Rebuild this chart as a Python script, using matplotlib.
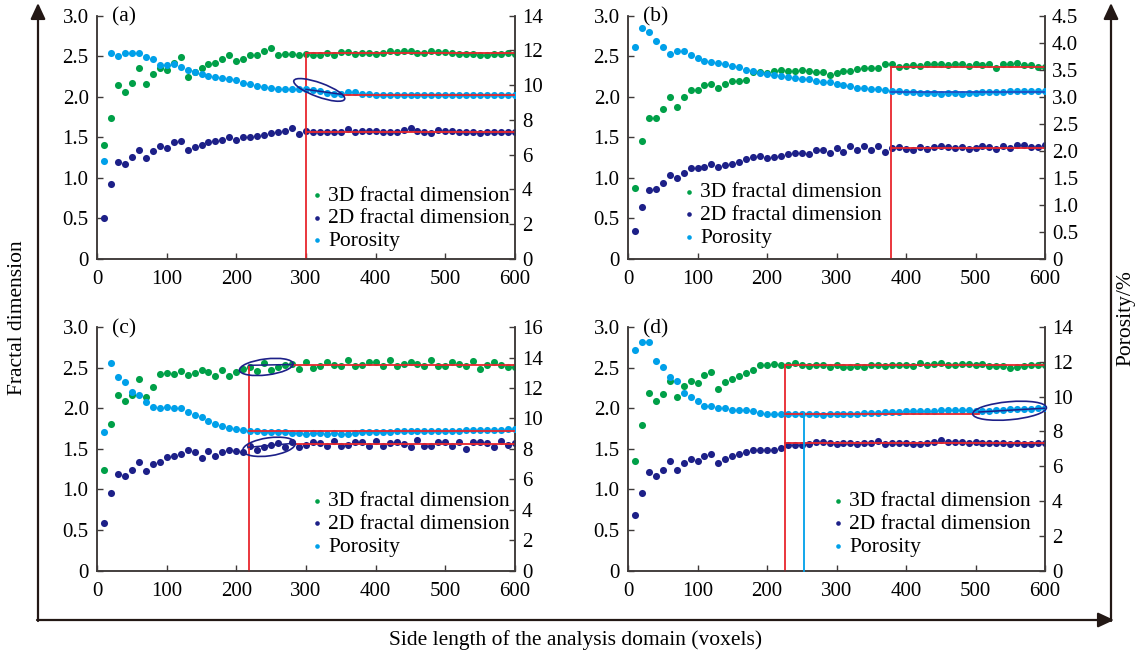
import matplotlib
matplotlib.use("Agg")
import matplotlib.pyplot as plt
from matplotlib.patches import Ellipse, FancyArrowPatch
from matplotlib.transforms import ScaledTranslation

plt.rcParams['font.family'] = ['Liberation Serif', 'DejaVu Serif']

W, H = 1139, 656
GREEN = '#00a048'
NAVY = '#1d2088'
CYAN = '#00a0e9'
RED = '#e8262d'
INK = '#231815'

# side length of the analysis domain (voxels)
side = list(range(10, 610, 10))

# ---- (a) ----
a_3d = [1.41, 1.74, 2.14, 2.06, 2.17, 2.35, 2.16, 2.28, 2.36, 2.33,
        2.42, 2.49, 2.25, 2.31, 2.36, 2.40, 2.42, 2.47, 2.51, 2.44,
        2.47, 2.51, 2.52, 2.56, 2.60, 2.52, 2.53, 2.53, 2.51, 2.53,
        2.52, 2.52, 2.54, 2.51, 2.55, 2.55, 2.53, 2.54, 2.54, 2.53,
        2.54, 2.56, 2.55, 2.57, 2.56, 2.54, 2.54, 2.56, 2.55, 2.55,
        2.54, 2.53, 2.53, 2.53, 2.51, 2.52, 2.53, 2.53, 2.54, 2.53]
a_2d = [0.50, 0.93, 1.20, 1.17, 1.26, 1.35, 1.25, 1.33, 1.39, 1.37,
        1.44, 1.46, 1.34, 1.38, 1.41, 1.44, 1.45, 1.47, 1.51, 1.47,
        1.50, 1.51, 1.52, 1.53, 1.55, 1.56, 1.58, 1.61, 1.54, 1.58,
        1.57, 1.57, 1.57, 1.57, 1.57, 1.60, 1.56, 1.58, 1.58, 1.58,
        1.57, 1.57, 1.57, 1.59, 1.61, 1.58, 1.57, 1.55, 1.59, 1.58,
        1.58, 1.57, 1.57, 1.57, 1.55, 1.56, 1.56, 1.56, 1.56, 1.56]
a_por = [5.65, 11.84, 11.67, 11.88, 11.88, 11.88, 11.61, 11.52, 11.17, 11.17,
         11.23, 11.04, 10.85, 10.74, 10.66, 10.51, 10.47, 10.40, 10.34, 10.28,
         10.13, 10.09, 9.96, 9.90, 9.83, 9.81, 9.79, 9.77, 9.77, 9.79,
         9.71, 9.64, 9.56, 9.52, 9.49, 9.60, 9.60, 9.52, 9.49, 9.45,
         9.45, 9.45, 9.45, 9.45, 9.45, 9.45, 9.45, 9.45, 9.45, 9.45,
         9.45, 9.45, 9.41, 9.41, 9.41, 9.41, 9.41, 9.41, 9.41, 9.45]

# ---- (b) ----
b_3d = [0.87, 1.46, 1.74, 1.74, 1.85, 2.00, 1.87, 2.00, 2.08, 2.08,
        2.15, 2.16, 2.11, 2.16, 2.20, 2.20, 2.21, 2.31, 2.30, 2.29,
        2.32, 2.33, 2.32, 2.32, 2.33, 2.32, 2.30, 2.31, 2.27, 2.29,
        2.32, 2.32, 2.34, 2.35, 2.36, 2.36, 2.40, 2.40, 2.37, 2.38,
        2.39, 2.38, 2.41, 2.41, 2.41, 2.39, 2.40, 2.40, 2.38, 2.41,
        2.39, 2.41, 2.35, 2.40, 2.41, 2.42, 2.39, 2.39, 2.37, 2.37]
b_2d = [0.35, 0.64, 0.85, 0.86, 0.94, 1.03, 1.00, 1.06, 1.12, 1.12,
        1.14, 1.17, 1.13, 1.16, 1.17, 1.19, 1.23, 1.26, 1.27, 1.24,
        1.26, 1.27, 1.29, 1.31, 1.31, 1.30, 1.34, 1.34, 1.31, 1.37,
        1.32, 1.39, 1.35, 1.39, 1.34, 1.39, 1.32, 1.37, 1.38, 1.36,
        1.34, 1.38, 1.36, 1.38, 1.39, 1.38, 1.37, 1.38, 1.36, 1.37,
        1.39, 1.38, 1.36, 1.39, 1.37, 1.41, 1.41, 1.38, 1.38, 1.40]
b_por = [3.92, 4.27, 4.19, 4.03, 3.93, 3.79, 3.85, 3.84, 3.78, 3.72,
         3.66, 3.65, 3.62, 3.60, 3.57, 3.55, 3.50, 3.47, 3.44, 3.43,
         3.40, 3.38, 3.37, 3.35, 3.32, 3.32, 3.29, 3.28, 3.27, 3.23,
         3.22, 3.20, 3.17, 3.17, 3.15, 3.14, 3.12, 3.11, 3.11, 3.09,
         3.08, 3.07, 3.07, 3.07, 3.06, 3.07, 3.07, 3.06, 3.07, 3.07,
         3.08, 3.08, 3.09, 3.09, 3.10, 3.10, 3.10, 3.11, 3.11, 3.11]

# ---- (c) ----
c_3d = [1.24, 1.81, 2.17, 2.09, 2.17, 2.36, 2.14, 2.26, 2.42, 2.43,
        2.42, 2.46, 2.41, 2.44, 2.47, 2.45, 2.40, 2.47, 2.40, 2.45,
        2.48, 2.51, 2.46, 2.56, 2.47, 2.51, 2.54, 2.55, 2.49, 2.57,
        2.50, 2.52, 2.57, 2.53, 2.52, 2.59, 2.52, 2.54, 2.57, 2.57,
        2.52, 2.59, 2.52, 2.55, 2.57, 2.55, 2.52, 2.60, 2.52, 2.52,
        2.57, 2.55, 2.52, 2.58, 2.49, 2.54, 2.57, 2.53, 2.51, 2.51]
c_2d = [0.59, 0.96, 1.19, 1.17, 1.24, 1.34, 1.23, 1.31, 1.34, 1.40,
        1.41, 1.44, 1.48, 1.46, 1.39, 1.47, 1.41, 1.46, 1.49, 1.47,
        1.46, 1.53, 1.49, 1.52, 1.55, 1.57, 1.52, 1.59, 1.52, 1.55,
        1.58, 1.57, 1.54, 1.60, 1.53, 1.55, 1.59, 1.58, 1.53, 1.60,
        1.53, 1.57, 1.58, 1.56, 1.52, 1.61, 1.53, 1.53, 1.59, 1.59,
        1.53, 1.59, 1.50, 1.58, 1.58, 1.57, 1.52, 1.60, 1.55, 1.57]
c_por = [9.11, 13.66, 12.75, 12.40, 11.75, 11.53, 11.06, 10.73, 10.69, 10.73,
         10.69, 10.67, 10.41, 10.25, 10.08, 9.86, 9.65, 9.52, 9.39, 9.33,
         9.26, 9.17, 9.17, 9.11, 9.13, 9.13, 9.11, 9.04, 9.04, 9.00,
         9.04, 9.04, 9.00, 9.04, 9.00, 9.00, 9.04, 9.08, 9.11, 9.11,
         9.13, 9.13, 9.15, 9.15, 9.15, 9.15, 9.17, 9.17, 9.17, 9.17,
         9.20, 9.20, 9.22, 9.24, 9.24, 9.26, 9.26, 9.26, 9.28, 9.28]

# ---- (d) ----
d_3d = [1.35, 1.79, 2.19, 2.09, 2.18, 2.34, 2.14, 2.28, 2.34, 2.31,
        2.41, 2.45, 2.24, 2.32, 2.36, 2.40, 2.43, 2.47, 2.53, 2.54,
        2.55, 2.54, 2.53, 2.56, 2.54, 2.52, 2.53, 2.53, 2.51, 2.54,
        2.51, 2.51, 2.52, 2.51, 2.54, 2.54, 2.52, 2.53, 2.54, 2.53,
        2.52, 2.56, 2.54, 2.55, 2.56, 2.54, 2.53, 2.55, 2.55, 2.54,
        2.55, 2.52, 2.52, 2.52, 2.50, 2.51, 2.52, 2.53, 2.53, 2.53]
d_2d = [0.68, 0.95, 1.21, 1.17, 1.24, 1.35, 1.24, 1.32, 1.37, 1.35,
        1.41, 1.44, 1.32, 1.37, 1.41, 1.44, 1.46, 1.48, 1.49, 1.49,
        1.48, 1.51, 1.55, 1.55, 1.55, 1.56, 1.58, 1.58, 1.57, 1.56,
        1.57, 1.57, 1.56, 1.57, 1.57, 1.60, 1.56, 1.57, 1.57, 1.57,
        1.56, 1.56, 1.57, 1.59, 1.61, 1.59, 1.58, 1.58, 1.57, 1.58,
        1.57, 1.57, 1.57, 1.57, 1.56, 1.57, 1.56, 1.56, 1.57, 1.57]
d_por = [12.67, 13.12, 13.12, 12.08, 11.72, 11.14, 10.91, 10.21, 9.97, 9.78,
         9.49, 9.44, 9.36, 9.34, 9.25, 9.21, 9.21, 9.17, 9.08, 9.02,
         9.02, 9.02, 9.02, 9.02, 8.98, 8.98, 8.98, 8.97, 8.98, 9.02,
         9.02, 9.02, 9.02, 9.06, 9.06, 9.08, 9.12, 9.12, 9.12, 9.15,
         9.15, 9.17, 9.17, 9.17, 9.21, 9.21, 9.21, 9.21, 9.21, 9.17,
         9.15, 9.15, 9.21, 9.25, 9.27, 9.31, 9.31, 9.31, 9.34, 9.36]

labels = ['3D fractal dimension', '2D fractal dimension', 'Porosity']
x_ticks = [0, 100, 200, 300, 400, 500, 600]
fd_ticks = [0, 0.5, 1.0, 1.5, 2.0, 2.5, 3.0]


def frac_rect(px_left, px_top, px_w, px_h):
    return [px_left / W, 1 - (px_top + px_h) / H, px_w / W, px_h / H]


def fmt1(v):
    return '0' if v == 0 else '%.1f' % v


fig = plt.figure(figsize=(W / 100, H / 100), dpi=100)

panels = [
    ('(a)', frac_rect(97, 15.7, 418, 243.3), a_3d, a_2d, a_por, 14,
     [0, 2, 4, 6, 8, 10, 12, 14], str, (0.512, 0.302)),
    ('(b)', frac_rect(628, 15.7, 417, 243.3), b_3d, b_2d, b_por, 4.5,
     [0, 0.5, 1.0, 1.5, 2.0, 2.5, 3.0, 3.5, 4.0, 4.5], fmt1, (0.132, 0.315)),
    ('(c)', frac_rect(97, 327.2, 418, 243.3), c_3d, c_2d, c_por, 16,
     [0, 2, 4, 6, 8, 10, 12, 14, 16], str, (0.512, 0.326)),
    ('(d)', frac_rect(628, 327.2, 417, 243.3), d_3d, d_2d, d_por, 14,
     [0, 2, 4, 6, 8, 10, 12, 14], str, (0.489, 0.326)),
]

axes = []
for tag, rect, fd3, fd2, por, ptop, pticks, pfmt, legpos in panels:
    ax = fig.add_axes(rect)
    ax2 = ax.twinx()
    h3 = ax.scatter(side, fd3, s=26, color=GREEN, lw=0, zorder=3)
    h2 = ax.scatter(side, fd2, s=26, color=NAVY, lw=0, zorder=3)
    hp = ax2.scatter(side, por, s=26, color=CYAN, lw=0, zorder=3)

    ax.set_xlim(0, 600)
    ax.set_ylim(0, 3.0)
    ax2.set_ylim(0, ptop)
    ax.set_xticks(x_ticks)
    ax.set_xticklabels([str(t) for t in x_ticks])
    ax.set_yticks(fd_ticks)
    ax.set_yticklabels([fmt1(t) for t in fd_ticks])
    ax2.set_yticks(pticks)
    ax2.set_yticklabels([pfmt(t) for t in pticks])

    for a in (ax, ax2):
        a.spines['top'].set_visible(False)
        for sp in a.spines.values():
            sp.set_color('#3e3a39')
            sp.set_linewidth(1.1)
        a.tick_params(direction='in', length=4, width=1, color='#3e3a39',
                      labelsize=15, labelcolor='black')
    ax.tick_params(axis='y', pad=6)
    ax.tick_params(axis='x', pad=8)
    ax2.tick_params(axis='y', pad=5)

    ax.text(0.035, 0.995, tag, transform=ax.transAxes, ha='left', va='center', fontsize=15.5)
    ax2.legend([h3, h2, hp], labels, loc='upper left', bbox_to_anchor=legpos,
               frameon=False, fontsize=15.5, markerscale=0.65, handlelength=0.55,
               handletextpad=0.25, labelspacing=0.12, borderpad=0, borderaxespad=0)
    axes.append((ax, ax2))


def ring(ax, host, x, y, w, h, ang):
    tr = fig.dpi_scale_trans + ScaledTranslation(x, y, ax.transData)
    e = Ellipse((0, 0), w / 100, h / 100, angle=ang, fill=False, ec=NAVY, lw=1.2,
                transform=tr, clip_on=False, zorder=6)
    host.add_artist(e)


def hline(a, y, x0, x1, color=RED):
    a.plot([x0, x1], [y, y], color=color, lw=1.3, zorder=5)


def vline(a, x, y1, color=RED):
    a.plot([x, x], [0, y1], color=color, lw=1.3, zorder=5, clip_on=False)


# (a) guides
ax, ax2 = axes[0]
vline(ax, 300, 2.54)
hline(ax, 2.54, 300, 600)
hline(ax, 1.57, 300, 600)
hline(ax2, 9.45, 355, 600)
ax2.plot([300, 352], [9.76, 9.47], color=NAVY, lw=1.1, zorder=5)
ring(ax, ax2, 319, 2.085, 54, 14, -20)

# (b) guides
ax, ax2 = axes[1]
vline(ax, 378, 2.37)
hline(ax, 2.37, 378, 600)
hline(ax, 1.37, 378, 600)
hline(ax2, 3.09, 378, 600, color='#1f4fc4')

# (c) guides
ax, ax2 = axes[2]
vline(ax, 218, 2.52)
hline(ax, 2.54, 280, 600)
ax.plot([218, 280], [2.53, 2.54], color=NAVY, lw=1.1, zorder=5)
hline(ax, 1.56, 284, 600)
ax.plot([218, 284], [1.52, 1.57], color=NAVY, lw=1.1, zorder=5)
hline(ax2, 9.17, 218, 600)
ring(ax, ax2, 243, 2.51, 54, 16, 7)
ring(ax, ax2, 247, 1.525, 53, 18, 8)

# (d) guides
ax, ax2 = axes[3]
vline(ax, 226, 2.54)
hline(ax, 2.54, 226, 600)
hline(ax, 1.57, 226, 600)
hline(ax2, 9.02, 226, 505)
ax2.plot([505, 600], [9.12, 9.34], color=NAVY, lw=1.1, zorder=5)
vline(ax2, 253, 9.02, color=CYAN)
ring(ax, ax2, 549, 1.97, 74, 18, 5)


# frame arrows
def fpt(px, py):
    return (px / W, 1 - py / H)


arrow_kw = dict(arrowstyle='-|>,head_length=0.6,head_width=0.28', mutation_scale=16,
                transform=fig.transFigure, color=INK, lw=1.6, shrinkA=0, shrinkB=0)
fig.add_artist(FancyArrowPatch(fpt(38, 621), fpt(38, 3), **arrow_kw))
fig.add_artist(FancyArrowPatch(fpt(37, 620), fpt(1114, 620), **arrow_kw))
fig.add_artist(FancyArrowPatch(fpt(1111, 621), fpt(1111, 3), **arrow_kw))

fig.text(18 / W, 1 - 318 / H, 'Fractal dimension', rotation=90, ha='center', va='center', fontsize=15.5)
fig.text(1126 / W, 1 - 318 / H, 'Porosity/%', rotation=90, ha='center', va='center', fontsize=15.5)
fig.text(576 / W, 1 - 640 / H, 'Side length of the analysis domain (voxels)', ha='center', va='center',
         fontsize=15.5)

fig.savefig('out.png', dpi=100)
